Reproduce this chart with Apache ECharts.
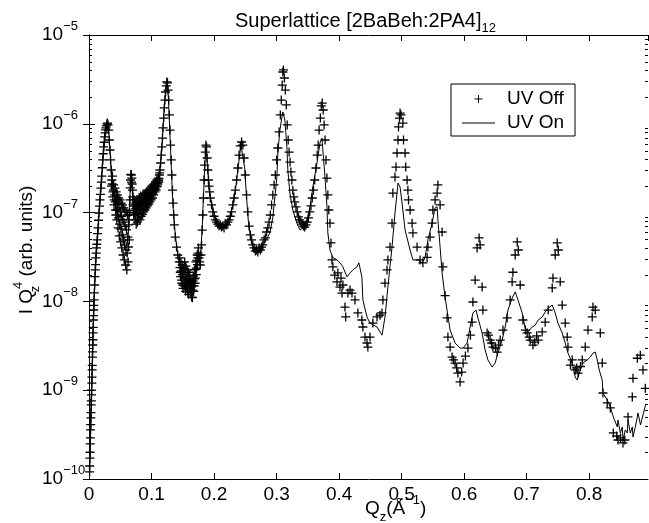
<!DOCTYPE html>
<html><head><meta charset="utf-8">
<script src="https://cdn.jsdelivr.net/npm/echarts@6/dist/echarts.min.js"></script>
<style>html,body{margin:0;padding:0;background:#fff}#c{width:649px;height:523px}</style>
</head><body><div id="c"></div>
<script>
const TITLE = 'Superlattice [2BaBeh:2PA4]';
const TITLE_SUB = '12';
const X_MIN = 0, X_MAX = 0.894, X_STEP = 0.1;
const Y_MIN = 1e-10, Y_MAX = 1e-5;
const SERIES_NAMES = ['UV Off', 'UV On'];

// UV Off: [Qz, I*Qz^4]
const uvOff = [
[0.0010,1.2e-10],[0.0012,1.4e-10],[0.0015,1.72e-10],[0.0017,2.0e-10],[0.0020,2.48e-10],[0.0022,2.9e-10],
[0.0025,3.57e-10],[0.0027,4.1e-10],[0.0030,4.87e-10],[0.0032,5.6e-10],[0.0035,6.82e-10],[0.0037,7.6e-10],
[0.0040,8.85e-10],[0.0042,1.0e-9],[0.0045,1.2e-9],[0.0047,1.4e-9],[0.0050,1.69e-9],[0.0052,1.9e-9],
[0.0055,2.36e-9],[0.0057,2.7e-9],[0.0060,3.23e-9],[0.0062,3.7e-9],[0.0065,4.41e-9],[0.0067,5.1e-9],
[0.0070,6.17e-9],[0.0072,6.9e-9],[0.0075,8.0e-9],[0.0077,9.0e-9],[0.0080,1.04e-8],[0.0085,1.25e-8],
[0.0090,1.53e-8],[0.0095,1.9e-8],[0.0100,2.26e-8],[0.0105,2.6e-8],[0.0110,3.09e-8],[0.0115,3.5e-8],
[0.0120,4.0e-8],[0.0125,4.4e-8],[0.0130,4.92e-8],[0.0138,5.8e-8],[0.0145,6.72e-8],[0.0152,8.2e-8],
[0.0160,9.9e-8],[0.0168,1.18e-7],[0.0175,1.39e-7],[0.0183,1.6e-7],[0.0190,1.89e-7],[0.0198,2.2e-7],
[0.0205,2.58e-7],[0.0213,3.2e-7],[0.0220,3.92e-7],[0.0228,4.6e-7],[0.0235,5.49e-7],[0.0243,6.2e-7],
[0.0250,7.11e-7],[0.0258,7.9e-7],[0.0265,8.53e-7],[0.0272,9.0e-7],[0.0280,9.46e-7],[0.0288,1.0e-6],
[0.0295,1.02e-6],[0.0305,9.7e-7],[0.0315,8.5e-7],[0.0325,6.57e-7],[0.0335,5.07e-7],[0.0345,3.92e-7],
[0.0355,3.02e-7],[0.0360,1.99e-7],[0.0365,2.33e-7],[0.0370,2.1e-7],[0.0375,2.58e-7],[0.0380,1.5e-7],
[0.0385,1.71e-7],[0.0390,1.79e-7],[0.0395,2.05e-7],[0.0400,1.22e-7],[0.0405,1.39e-7],[0.0410,1.58e-7],
[0.0415,1.89e-7],[0.0420,1.32e-7],[0.0425,1.07e-7],[0.0430,9.4e-8],[0.0435,1.71e-7],[0.0440,1.39e-7],
[0.0445,8.27e-8],[0.0450,1.07e-7],[0.0455,1.58e-7],[0.0460,1.25e-7],[0.0465,6.72e-8],[0.0470,8.7e-8],
[0.0475,1.46e-7],[0.0480,1.13e-7],[0.0485,5.46e-8],[0.0490,7.4e-8],[0.0495,1.39e-7],[0.0500,1.02e-7],
[0.0505,4.67e-8],[0.0510,6.5e-8],[0.0515,1.28e-7],[0.0520,9.1e-8],[0.0525,4.0e-8],[0.0530,5.6e-8],
[0.0535,1.22e-7],[0.0540,8.3e-8],[0.0545,3.33e-8],[0.0550,4.9e-8],[0.0555,1.13e-7],[0.0560,7.8e-8],
[0.0565,2.93e-8],[0.0570,4.3e-8],[0.0575,1.07e-7],[0.0580,7.0e-8],[0.0585,2.57e-8],[0.0590,3.8e-8],
[0.0595,1.02e-7],[0.0600,6.4e-8],[0.0605,2.26e-8],[0.0610,3.5e-8],[0.0615,9.4e-8],[0.0620,5.3e-8],
[0.0625,2.78e-8],[0.0630,4.1e-8],[0.0635,7.26e-8],[0.0640,8.3e-8],[0.0645,4.92e-8],[0.0650,1.0e-7],
[0.0655,1.39e-7],[0.0660,1.9e-7],[0.0665,2.33e-7],[0.0670,2.7e-7],[0.0675,2.65e-7],[0.0680,2.2e-7],
[0.0685,2.45e-7],[0.0690,2.1e-7],[0.0695,1.79e-7],[0.0700,1.5e-7],[0.0705,1.22e-7],[0.0710,1.05e-7],
[0.0715,9.4e-8],[0.0720,1.18e-7],[0.0725,1.39e-7],[0.0730,1.0e-7],[0.0735,8.27e-8],[0.0740,1.1e-7],
[0.0745,1.28e-7],[0.0750,9.6e-8],[0.0755,7.4e-8],[0.0760,1.05e-7],[0.0765,1.32e-7],[0.0770,1.15e-7],
[0.0775,7.8e-8],[0.0780,9.8e-8],[0.0785,1.39e-7],[0.0790,1.2e-7],[0.0795,8.7e-8],[0.0800,1.05e-7],
[0.0805,1.46e-7],[0.0810,1.25e-7],[0.0815,8.27e-8],[0.0820,1.1e-7],[0.0825,1.54e-7],[0.0830,1.3e-7],
[0.0835,9.1e-8],[0.0840,1.2e-7],[0.0845,1.5e-7],[0.0850,1.32e-7],[0.0855,9.56e-8],[0.0860,1.2e-7],
[0.0865,1.62e-7],[0.0870,1.4e-7],[0.0875,1.02e-7],[0.0880,1.3e-7],[0.0885,1.58e-7],[0.0890,1.45e-7],
[0.0895,1.07e-7],[0.0900,1.28e-7],[0.0905,1.66e-7],[0.0910,1.5e-7],[0.0915,1.13e-7],[0.0920,1.35e-7],
[0.0925,1.71e-7],[0.0930,1.55e-7],[0.0935,1.19e-7],[0.0940,1.4e-7],[0.0945,1.79e-7],[0.0950,1.6e-7],
[0.0955,1.25e-7],[0.0960,1.48e-7],[0.0965,1.79e-7],[0.0970,1.62e-7],[0.0975,1.32e-7],[0.0980,1.55e-7],
[0.0985,1.89e-7],[0.0990,1.7e-7],[0.0995,1.39e-7],[0.1000,1.6e-7],[0.1005,1.99e-7],[0.1010,1.75e-7],
[0.1015,1.46e-7],[0.1020,1.68e-7],[0.1025,2.05e-7],[0.1030,1.85e-7],[0.1035,1.58e-7],[0.1040,1.78e-7],
[0.1045,2.1e-7],[0.1050,1.9e-7],[0.1055,1.71e-7],[0.1060,1.85e-7],[0.1065,2.21e-7],[0.1070,2.0e-7],
[0.1075,1.79e-7],[0.1080,1.95e-7],[0.1085,2.33e-7],[0.1090,2.15e-7],[0.1095,1.99e-7],[0.1100,2.1e-7],
[0.1105,2.45e-7],[0.1110,2.3e-7],[0.1115,2.21e-7],[0.1120,2.4e-7],[0.1125,2.65e-7],[0.1130,2.8e-7],
[0.1135,3.02e-7],[0.1145,3.62e-7],[0.1155,4.45e-7],[0.1165,5.49e-7],[0.1175,6.9e-7],[0.1185,9.0e-7],
[0.1195,1.16e-6],[0.1205,1.51e-6],[0.1215,1.85e-6],[0.1225,2.28e-6],[0.1235,2.67e-6],[0.1245,2.96e-6],
[0.1255,2.89e-6],[0.1265,2.4e-6],[0.1275,1.85e-6],[0.1285,1.26e-6],[0.1295,8.5e-7],[0.1305,5.76e-7],
[0.1315,3.92e-7],[0.1325,2.65e-7],[0.1335,1.79e-7],[0.1345,1.28e-7],[0.1355,9.4e-8],[0.1365,7.26e-8],
[0.1380,5.3e-8],[0.1400,4.09e-8],[0.1420,3.33e-8],[0.1440,2.78e-8],[0.1450,3.09e-8],[0.1455,2.4e-8],
[0.1460,2.13e-8],[0.1465,1.9e-8],[0.1470,2.78e-8],[0.1475,2.2e-8],[0.1480,1.74e-8],[0.1485,1.6e-8],
[0.1490,2.57e-8],[0.1495,2.0e-8],[0.1500,1.53e-8],[0.1505,1.4e-8],[0.1510,2.37e-8],[0.1515,2.1e-8],
[0.1520,1.83e-8],[0.1525,1.5e-8],[0.1530,2.78e-8],[0.1535,2.3e-8],[0.1540,1.61e-8],[0.1545,1.3e-8],
[0.1550,2.5e-8],[0.1555,1.9e-8],[0.1560,1.42e-8],[0.1565,1.6e-8],[0.1570,2.26e-8],[0.1575,1.5e-8],
[0.1580,1.28e-8],[0.1585,1.8e-8],[0.1590,2.13e-8],[0.1595,1.2e-8],[0.1600,1.53e-8],[0.1605,1.7e-8],
[0.1610,1.98e-8],[0.1615,1.4e-8],[0.1620,1.28e-8],[0.1625,1.6e-8],[0.1630,1.74e-8],[0.1635,1.3e-8],
[0.1640,1.12e-8],[0.1645,1.5e-8],[0.1650,1.61e-8],[0.1655,1.1e-8],[0.1660,1.34e-8],[0.1665,1.7e-8],
[0.1670,1.93e-8],[0.1675,1.3e-8],[0.1680,1.49e-8],[0.1685,1.8e-8],[0.1690,2.26e-8],[0.1695,1.6e-8],
[0.1700,1.83e-8],[0.1705,2.3e-8],[0.1710,2.78e-8],[0.1715,2.0e-8],[0.1720,2.37e-8],[0.1725,2.9e-8],
[0.1730,3.33e-8],[0.1735,2.6e-8],[0.1740,3.09e-8],[0.1745,3.5e-8],[0.1750,4.0e-8],[0.1755,3.3e-8],
[0.1760,3.09e-8],[0.1770,2.78e-8],[0.1780,2.57e-8],[0.1790,3.33e-8],[0.1800,4.32e-8],[0.1810,6.36e-8],
[0.1820,9.4e-8],[0.1830,1.46e-7],[0.1840,2.33e-7],[0.1850,3.43e-7],[0.1860,4.81e-7],[0.1870,5.76e-7],
[0.1880,5.49e-7],[0.1890,4.12e-7],[0.1900,3.02e-7],[0.1910,2.33e-7],[0.1920,1.99e-7],[0.1930,1.71e-7],
[0.1940,1.46e-7],[0.1960,1.22e-7],[0.1980,1.02e-7],[0.2000,9.1e-8],[0.2020,8.27e-8],[0.2040,7.8e-8],
[0.2060,7.4e-8],[0.2080,7.05e-8],[0.2100,7.26e-8],[0.2120,6.87e-8],[0.2140,7.05e-8],[0.2160,6.72e-8],
[0.2180,7.4e-8],[0.2200,7.26e-8],[0.2220,7.8e-8],[0.2240,8.27e-8],[0.2260,9.1e-8],[0.2280,1.02e-7],
[0.2300,1.22e-7],[0.2320,1.46e-7],[0.2340,1.79e-7],[0.2360,2.33e-7],[0.2380,3.18e-7],[0.2400,4.45e-7],
[0.2420,5.63e-7],[0.2440,6.24e-7],[0.2460,5.76e-7],[0.2480,4.12e-7],[0.2500,2.65e-7],[0.2520,1.58e-7],
[0.2540,1.02e-7],[0.2560,7.05e-8],[0.2580,5.6e-8],[0.2600,4.92e-8],[0.2620,4.32e-8],[0.2640,4.0e-8],
[0.2660,3.69e-8],[0.2680,3.79e-8],[0.2700,3.6e-8],[0.2720,4.0e-8],[0.2740,3.79e-8],[0.2760,4.09e-8],
[0.2780,4.32e-8],[0.2800,4.92e-8],[0.2820,5.18e-8],[0.2840,6.05e-8],[0.2860,6.72e-8],[0.2880,7.8e-8],
[0.2900,9.4e-8],[0.2920,1.22e-7],[0.2940,1.58e-7],[0.2960,2.05e-7],[0.2980,2.65e-7],[0.3000,3.92e-7],
[0.3020,5.34e-7],[0.3040,8.1e-7],[0.3060,1.26e-6],[0.3075,1.85e-6],[0.3090,2.73e-6],[0.3100,3.83e-6],
[0.3110,4.04e-6],[0.3125,3.28e-6],[0.3140,2.4e-6],[0.3155,1.63e-6],[0.3170,9.7e-7],[0.3185,6.57e-7],
[0.3200,4.81e-7],[0.3215,3.71e-7],[0.3230,2.87e-7],[0.3245,2.33e-7],[0.3260,1.79e-7],[0.3275,1.5e-7],
[0.3290,1.32e-7],[0.3310,1.16e-7],[0.3330,1.02e-7],[0.3350,8.93e-8],[0.3370,8.27e-8],[0.3390,7.8e-8],
[0.3410,7.4e-8],[0.3430,7.05e-8],[0.3450,6.87e-8],[0.3470,7.26e-8],[0.3490,7.8e-8],[0.3510,8.7e-8],
[0.3530,1.02e-7],[0.3550,1.19e-7],[0.3570,1.46e-7],[0.3590,1.79e-7],[0.3610,2.33e-7],[0.3630,3.18e-7],
[0.3650,4.45e-7],[0.3665,5.76e-7],[0.3680,8.5e-7],[0.3700,1.16e-6],[0.3715,1.59e-6],[0.3730,1.71e-6],
[0.3745,1.43e-6],[0.3760,9.7e-7],[0.3775,6.57e-7],[0.3790,3.92e-7],[0.3805,2.45e-7],[0.3820,1.58e-7],
[0.3835,1.07e-7],[0.3854,7.6e-8],[0.3870,4.56e-8],[0.3886,2.93e-8],[0.3900,2.45e-8],[0.3930,1.98e-8],
[0.3966,1.66e-8],[0.3980,2.09e-8],[0.4014,1.45e-8],[0.4030,1.83e-8],[0.4046,1.24e-8],[0.4060,1.53e-8],
[0.4094,8.64e-9],[0.4105,6.68e-9],[0.4140,1.24e-8],[0.4174,1.34e-8],[0.4206,1.24e-8],[0.4254,1.04e-8],
[0.4300,7.41e-9],[0.4364,6.17e-9],[0.4380,5.15e-9],[0.4414,3.96e-9],[0.4446,3.4e-9],[0.4460,3.06e-9],
[0.4494,3.96e-9],[0.4540,5.7e-9],[0.4606,6.68e-9],[0.4654,7.0e-9],[0.4686,7.41e-9],[0.4700,1.04e-8],
[0.4734,1.61e-8],[0.4766,2.26e-8],[0.4780,2.93e-8],[0.4814,4.09e-8],[0.4846,7.6e-8],[0.4860,1.66e-7],
[0.4894,2.51e-7],[0.4910,3.26e-7],[0.4926,4.69e-7],[0.4942,6.57e-7],[0.4950,9.22e-7],[0.4965,1.16e-6],
[0.4975,1.32e-6],[0.4990,1.26e-6],[0.5020,1.02e-6],[0.5030,6.57e-7],[0.5055,4.69e-7],[0.5065,3.26e-7],
[0.5087,2.33e-7],[0.5100,1.79e-7],[0.5110,1.39e-7],[0.5135,1.07e-7],[0.5167,7.6e-8],[0.5180,5.9e-8],
[0.5247,4.09e-8],[0.5295,2.93e-8],[0.5340,2.72e-8],[0.5407,3.13e-8],[0.5420,4.09e-8],[0.5455,5.3e-8],
[0.5487,7.6e-8],[0.5500,1.07e-7],[0.5535,1.39e-7],[0.5567,1.66e-7],[0.5580,2.05e-7],[0.5615,1.22e-7],
[0.5647,6.05e-8],[0.5660,2.45e-8],[0.5695,1.16e-8],[0.5727,6.51e-9],[0.5740,3.96e-9],[0.5775,3.06e-9],
[0.5807,2.36e-9],[0.5830,2.19e-9],[0.5855,2.02e-9],[0.5880,1.78e-9],[0.5900,1.56e-9],[0.5935,1.24e-9],
[0.5960,1.6e-9],[0.5983,2.02e-9],[0.6020,2.42e-9],[0.6060,2.98e-9],[0.6100,4.17e-9],[0.6127,5.84e-9],
[0.6140,9.84e-9],[0.6175,1.74e-8],[0.6207,4.0e-8],[0.6239,5.18e-8],[0.6255,4.32e-8],[0.6287,1.45e-8],
[0.6300,7.98e-9],[0.6367,4.41e-9],[0.6390,4.17e-9],[0.6415,3.67e-9],[0.6440,3.4e-9],[0.6460,3.06e-9],
[0.6500,2.98e-9],[0.6527,2.69e-9],[0.6550,3.22e-9],[0.6576,3.67e-9],[0.6620,4.76e-9],[0.6687,6.51e-9],
[0.6736,1.04e-8],[0.6767,1.66e-8],[0.6780,2.13e-8],[0.6816,3.33e-8],[0.6848,4.67e-8],[0.6865,3.79e-8],
[0.6896,1.53e-8],[0.6940,6.17e-9],[0.6980,4.76e-9],[0.7008,4.41e-9],[0.7040,3.96e-9],[0.7056,3.67e-9],
[0.7100,3.22e-9],[0.7130,3.48e-9],[0.7160,4.1e-9],[0.7184,3.67e-9],[0.7248,4.53e-9],[0.7296,5.84e-9],
[0.7344,7.98e-9],[0.7408,1.42e-8],[0.7420,1.83e-8],[0.7456,3.33e-8],[0.7488,4.56e-8],[0.7505,3.79e-8],
[0.7536,1.66e-8],[0.7568,9.1e-9],[0.7616,5.7e-9],[0.7648,3.96e-9],[0.7660,3.06e-9],[0.7700,1.92e-9],
[0.7728,2.19e-9],[0.7776,1.69e-9],[0.7800,1.78e-9],[0.7820,1.56e-9],[0.7860,1.85e-9],[0.7888,2.19e-9],
[0.7936,3.06e-9],[0.7980,4.76e-9],[0.8048,6.68e-9],[0.8060,8.64e-9],[0.8097,7.98e-9],[0.8177,4.41e-9],
[0.8208,2.02e-9],[0.8220,9.3e-10],[0.8288,7.19e-10],[0.8337,6.31e-10],[0.8385,3.3e-10],[0.8440,3.05e-10],
[0.8460,2.75e-10],[0.8500,2.9e-10],[0.8540,2.55e-10],[0.8570,2.75e-10],[0.8620,5.0e-10],[0.8689,8.4e-10],
[0.8700,1.36e-9],[0.8769,2.29e-9],[0.8817,2.48e-9],[0.8860,1.69e-9],[0.8897,1.05e-9]
];

// UV On: [Qz, I*Qz^4]
const uvOn = [
[0.0005,1.26e-10],[0.0015,1.86e-10],[0.0030,4.62e-10],[0.0045,1.14e-9],[0.0060,2.98e-9],[0.0075,7.6e-9],
[0.0090,1.45e-8],[0.0110,2.93e-8],[0.0130,4.67e-8],[0.0160,9.9e-8],[0.0190,1.89e-7],[0.0220,3.71e-7],
[0.0250,6.57e-7],[0.0280,9.22e-7],[0.0300,9.7e-7],[0.0320,7.5e-7],[0.0340,4.45e-7],[0.0360,2.65e-7],
[0.0380,2.05e-7],[0.0400,1.58e-7],[0.0430,1.22e-7],[0.0460,9.4e-8],[0.0490,7.8e-8],[0.0520,6.72e-8],
[0.0550,5.6e-8],[0.0580,4.92e-8],[0.0610,4.32e-8],[0.0630,6.05e-8],[0.0650,1.39e-7],[0.0670,2.45e-7],
[0.0690,2.05e-7],[0.0720,1.22e-7],[0.0760,1.07e-7],[0.0800,1.13e-7],[0.0850,1.22e-7],[0.0900,1.39e-7],
[0.0950,1.58e-7],[0.1000,1.71e-7],[0.1050,1.99e-7],[0.1100,2.33e-7],[0.1140,3.35e-7],[0.1170,6.1e-7],
[0.1200,1.43e-6],[0.1230,2.67e-6],[0.1250,2.96e-6],[0.1270,1.95e-6],[0.1290,9.0e-7],[0.1310,4.12e-7],
[0.1330,1.89e-7],[0.1350,1.02e-7],[0.1380,5.6e-8],[0.1420,3.33e-8],[0.1470,2.37e-8],[0.1520,1.98e-8],
[0.1570,1.74e-8],[0.1620,1.57e-8],[0.1670,1.74e-8],[0.1720,2.37e-8],[0.1760,3.09e-8],[0.1790,3.79e-8],
[0.1810,6.72e-8],[0.1830,1.46e-7],[0.1850,3.18e-7],[0.1870,5.34e-7],[0.1885,5.49e-7],[0.1900,3.18e-7],
[0.1920,1.89e-7],[0.1950,1.39e-7],[0.2000,9.9e-8],[0.2050,7.8e-8],[0.2100,7.05e-8],[0.2150,6.87e-8],
[0.2200,7.4e-8],[0.2250,8.7e-8],[0.2300,1.22e-7],[0.2350,1.99e-7],[0.2400,3.92e-7],[0.2430,5.76e-7],
[0.2460,5.63e-7],[0.2490,3.18e-7],[0.2520,1.46e-7],[0.2550,7.8e-8],[0.2590,4.92e-8],[0.2640,3.79e-8],
[0.2700,3.48e-8],[0.2750,3.79e-8],[0.2800,4.56e-8],[0.2850,5.18e-8],[0.2893,5.9e-8],[0.2941,8.93e-8],
[0.3005,2.51e-7],[0.3020,4.69e-7],[0.3053,8.5e-7],[0.3085,1.19e-6],[0.3100,1.36e-6],[0.3133,1.1e-6],
[0.3165,5.49e-7],[0.3180,3.02e-7],[0.3213,1.66e-7],[0.3260,1.07e-7],[0.3325,7.6e-8],[0.3374,6.36e-8],
[0.3420,6.72e-8],[0.3486,8.27e-8],[0.3534,1.16e-7],[0.3580,1.94e-7],[0.3646,3.62e-7],[0.3694,6.1e-7],
[0.3726,6.9e-7],[0.3740,5.07e-7],[0.3774,2.51e-7],[0.3806,1.16e-7],[0.3820,5.9e-8],[0.3854,3.79e-8],
[0.3900,3.13e-8],[0.3966,2.93e-8],[0.4014,2.72e-8],[0.4060,2.45e-8],[0.4126,1.89e-8],[0.4174,2.09e-8],
[0.4220,2.26e-8],[0.4286,2.45e-8],[0.4316,2.72e-8],[0.4364,1.89e-8],[0.4380,1.04e-8],[0.4446,6.68e-9],
[0.4494,5.7e-9],[0.4606,5.15e-9],[0.4686,4.17e-9],[0.4734,6.68e-9],[0.4780,1.45e-8],[0.4846,4.09e-8],
[0.4894,9.9e-8],[0.4926,1.66e-7],[0.4942,2.15e-7],[0.4975,1.94e-7],[0.5007,1.28e-7],[0.5055,6.36e-8],
[0.5135,3.79e-8],[0.5180,2.93e-8],[0.5260,2.93e-8],[0.5327,2.72e-8],[0.5375,3.13e-8],[0.5420,4.92e-8],
[0.5487,7.6e-8],[0.5535,1.13e-7],[0.5567,1.16e-7],[0.5580,8.27e-8],[0.5615,4.09e-8],[0.5647,2.09e-8],
[0.5695,1.11e-8],[0.5775,4.76e-9],[0.5855,3.4e-9],[0.5935,2.98e-9],[0.5983,2.98e-9],[0.6047,3.4e-9],
[0.6095,5.15e-9],[0.6140,7.41e-9],[0.6190,7.98e-9],[0.6220,6.51e-9],[0.6287,4.41e-9],[0.6335,2.84e-9],
[0.6380,2.19e-9],[0.6447,1.82e-9],[0.6495,2.02e-9],[0.6540,2.62e-9],[0.6607,3.67e-9],[0.6656,5.15e-9],
[0.6700,7.98e-9],[0.6767,1.09e-8],[0.6816,1.28e-8],[0.6860,1.04e-8],[0.6928,7.41e-9],[0.6976,5.0e-9],
[0.7020,4.53e-9],[0.7088,5.15e-9],[0.7136,5.4e-9],[0.7184,6.17e-9],[0.7248,6.68e-9],[0.7296,7.6e-9],
[0.7344,8.4e-9],[0.7408,9.1e-9],[0.7456,7.41e-9],[0.7500,5.7e-9],[0.7568,4.41e-9],[0.7616,3.4e-9],
[0.7660,2.62e-9],[0.7728,2.02e-9],[0.7776,1.41e-9],[0.7808,1.3e-9],[0.7856,1.69e-9],[0.7900,2.02e-9],
[0.7968,2.19e-9],[0.8017,2.36e-9],[0.8060,2.62e-9],[0.8097,2.69e-9],[0.8128,2.19e-9],[0.8160,1.69e-9],
[0.8208,1.3e-9],[0.8220,9.3e-10],[0.8288,7.77e-10],[0.8337,6.48e-10],[0.8385,5.0e-10],[0.8449,3.86e-10],
[0.8460,4.62e-10],[0.8497,3.3e-10],[0.8529,3.86e-10],[0.8540,2.75e-10],[0.8577,3.57e-10],[0.8609,3.3e-10],
[0.8620,4.62e-10],[0.8657,3.3e-10],[0.8689,3.86e-10],[0.8700,2.97e-10],[0.8737,3.86e-10],[0.8769,5.0e-10],
[0.8780,5.55e-10],[0.8820,4.06e-10],[0.8860,5.26e-10],[0.8900,6.8e-10]
];

// minor tick values of the log axis
const minorTickValues = [
2e-10,3e-10,4e-10,5e-10,6e-10,7e-10,8e-10,9e-10,
2e-9,3e-9,4e-9,5e-9,6e-9,7e-9,8e-9,9e-9,
2e-8,3e-8,4e-8,5e-8,6e-8,7e-8,8e-8,9e-8,
2e-7,3e-7,4e-7,5e-7,6e-7,7e-7,8e-7,9e-7,
2e-6,3e-6,4e-6,5e-6,6e-6,7e-6,8e-6,9e-6
];

const F = "'Liberation Sans', Arial, Helvetica, sans-serif";
const PLUS = 'path://M0,4H8M4,0V8';
const LEG_PLUS = 'path://M0,0M33,14M16,3H17V6.5H20.5V7.5H17V11H16V7.5H12.5V6.5H16Z';
const LEG_LINE = 'path://M0,0M33,14M0,6.5H33V7.5H0Z';

const chart = echarts.init(document.getElementById('c'), null, {renderer: 'canvas', width: 649, height: 523});

const axisLineStyle = {color: '#000', width: 1};
function yLabel(v) {
  const e = Math.round(Math.log10(v));
  return '{b|10}{s|' + (e < 0 ? '\u2212' : '') + Math.abs(e) + '}';
}

chart.setOption({
  animation: false,
  backgroundColor: '#fff',
  textStyle: {fontFamily: F, color: '#000'},
  title: {
    text: TITLE + '{s|' + TITLE_SUB + '}',
    left: 235, top: 7, padding: 0,
    textStyle: {fontFamily: F, fontSize: 20, fontWeight: 'normal', color: '#000', lineHeight: 28,
      rich: {s: {fontFamily: F, fontSize: 13, lineHeight: 13, verticalAlign: 'bottom', color: '#000'}}}
  },
  grid: {left: 89, right: 1, top: 35, bottom: 44, containLabel: false, outerBoundsMode: 'none'},
  legend: {
    orient: 'vertical', left: 451, top: 84, padding: [4, 11, 2, 11],
    itemWidth: 33, itemHeight: 14, itemGap: 2,
    backgroundColor: '#fff', borderColor: '#000', borderWidth: 1, borderRadius: 0,
    selectedMode: false,
    textStyle: {fontFamily: F, fontSize: 19, color: '#000', lineHeight: 22, padding: [0, 0, 0, 7]},
    itemStyle: {borderWidth: 0},
    data: [{name: SERIES_NAMES[0], icon: LEG_PLUS}, {name: SERIES_NAMES[1], icon: LEG_LINE}]
  },
  xAxis: [{
    type: 'value', min: X_MIN, max: X_MAX, interval: X_STEP, position: 'bottom',
    axisLine: {lineStyle: axisLineStyle},
    axisTick: {inside: true, length: 6, lineStyle: axisLineStyle},
    axisLabel: {color: '#000', fontFamily: F, fontSize: 19, margin: 6, showMaxLabel: false,
      formatter: v => String(Math.round(v * 10) / 10)},
    splitLine: {show: false}
  }, {
    type: 'value', min: X_MIN, max: X_MAX, interval: X_STEP, position: 'top',
    axisLine: {lineStyle: axisLineStyle},
    axisTick: {inside: true, length: 6, lineStyle: axisLineStyle},
    axisLabel: {show: false}, splitLine: {show: false}
  }],
  yAxis: [{
    type: 'log', logBase: 10, min: Y_MIN, max: Y_MAX, position: 'left',
    axisLine: {lineStyle: axisLineStyle},
    axisTick: {inside: true, length: 6, lineStyle: axisLineStyle},
    axisLabel: {align: 'left', margin: 47, formatter: yLabel,
      rich: {
        b: {fontFamily: F, fontSize: 19, lineHeight: 30, color: '#000'},
        s: {fontFamily: F, fontSize: 13, lineHeight: 13, verticalAlign: 'top', color: '#000'}
      }},
    splitLine: {show: false}
  }, {
    type: 'log', logBase: 10, min: Y_MIN, max: Y_MAX, position: 'right',
    axisLine: {lineStyle: axisLineStyle},
    axisTick: {inside: true, length: 6, lineStyle: axisLineStyle},
    axisLabel: {show: false}, splitLine: {show: false}
  }],
  graphic: [
    {type: 'text', x: 27, y: 250, rotation: Math.PI / 2, silent: true,
      style: {text: 'I Q{z|z}{p|4} (arb. units)', fill: '#000', fontFamily: F, fontSize: 19, lineHeight: 30,
        align: 'center', verticalAlign: 'middle',
        rich: {
          z: {fontFamily: F, fontSize: 13, lineHeight: 13, verticalAlign: 'bottom', width: 0, fill: '#000'},
          p: {fontFamily: F, fontSize: 13, lineHeight: 13, verticalAlign: 'top', fill: '#000'}
        }}},
    {type: 'text', x: 365, y: 509, silent: true,
      style: {text: 'Q{z|z}(Å{p|\u22121})', fill: '#000', fontFamily: F, fontSize: 19, lineHeight: 30,
        align: 'left', verticalAlign: 'middle',
        rich: {
          z: {fontFamily: F, fontSize: 13, lineHeight: 13, verticalAlign: 'bottom', fill: '#000'},
          p: {fontFamily: F, fontSize: 13, lineHeight: 13, verticalAlign: 'top', fill: '#000'}
        }}}
  ],
  series: [{
    name: SERIES_NAMES[0], type: 'scatter', data: uvOff, symbol: PLUS, symbolSize: 9,
    itemStyle: {color: '#000', borderColor: '#000', borderWidth: 1.3, opacity: 1},
    emphasis: {disabled: true}, silent: true, z: 2
  }, {
    name: SERIES_NAMES[1], type: 'line', data: uvOn, symbol: 'none', showSymbol: false,
    lineStyle: {color: '#000', width: 1}, itemStyle: {color: '#000'},
    emphasis: {disabled: true}, silent: true, z: 3
  }, {
    type: 'custom', data: minorTickValues.map(v => [X_MIN, v]), encode: {x: 0, y: 1},
    silent: true, clip: false, z: 4,
    renderItem: function (params, api) {
      const v = api.value(1);
      const pL = api.coord([X_MIN, v]);
      const pR = api.coord([X_MAX, v]);
      const y = Math.round(pL[1]) + 0.5;
      return {type: 'group', children: [
        {type: 'line', shape: {x1: pL[0], y1: y, x2: pL[0] + 3, y2: y}, style: {stroke: '#000', lineWidth: 1}},
        {type: 'line', shape: {x1: pR[0] - 3, y1: y, x2: pR[0], y2: y}, style: {stroke: '#000', lineWidth: 1}}
      ]};
    }
  }]
});
</script>
</body></html>
